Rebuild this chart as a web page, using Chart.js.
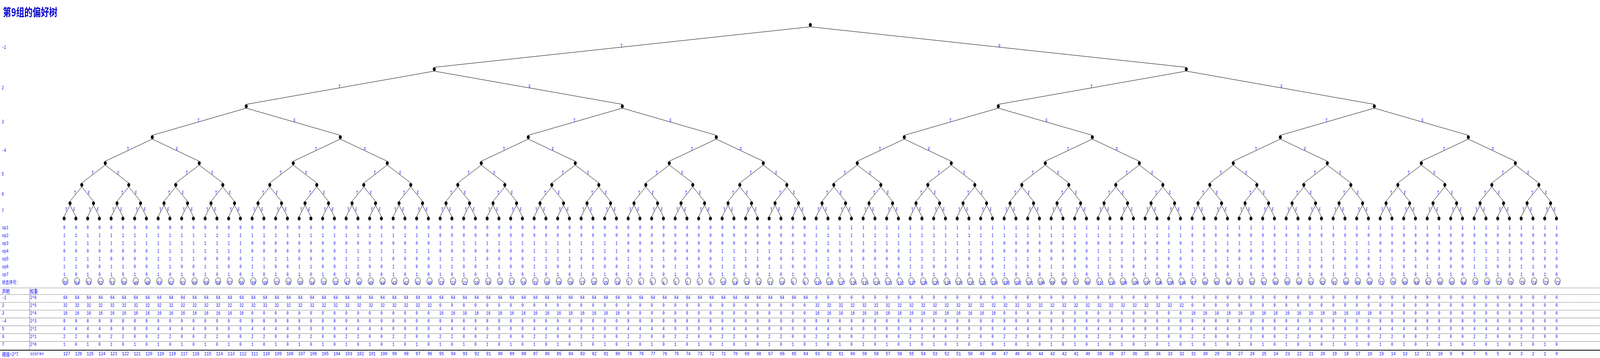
<!DOCTYPE html>
<html>
<head>
<meta charset="utf-8">
<script src="https://cdn.jsdelivr.net/npm/chart.js@4.4.0/dist/chart.umd.min.js"></script>
<style>html,body{margin:0;padding:0;background:#fff;overflow:hidden}#wrap{overflow:hidden}</style>
</head>
<body>
<div id="wrap"><canvas id="myChart"></canvas></div>
<script>
// ---- data ----
var title = "第9组的偏好树";
var declarations = ["-1", "2", "3", "-4", "5", "6", "7"];
var weightLabels = ["2^6", "2^5", "2^4", "2^3", "2^2", "2^1", "2^0"];
var weights = [64, 32, 16, 8, 4, 2, 1];
var opNames = ["op1", "op2", "op3", "op4", "op5", "op6", "op7"];
// one string per op row, 128 leaves, grouped by 16
var opRows = [
  "0000000000000000 0000000000000000 0000000000000000 0000000000000000 1111111111111111 1111111111111111 1111111111111111 1111111111111111",
  "1111111111111111 1111111111111111 0000000000000000 0000000000000000 1111111111111111 1111111111111111 0000000000000000 0000000000000000",
  "1111111111111111 0000000000000000 1111111111111111 0000000000000000 1111111111111111 0000000000000000 1111111111111111 0000000000000000",
  "0000000011111111 0000000011111111 0000000011111111 0000000011111111 0000000011111111 0000000011111111 0000000011111111 0000000011111111",
  "1111000011110000 1111000011110000 1111000011110000 1111000011110000 1111000011110000 1111000011110000 1111000011110000 1111000011110000",
  "1100110011001100 1100110011001100 1100110011001100 1100110011001100 1100110011001100 1100110011001100 1100110011001100 1100110011001100",
  "1010101010101010 1010101010101010 1010101010101010 1010101010101010 1010101010101010 1010101010101010 1010101010101010 1010101010101010"
];
var states = [
  55,54,53,52,51,50,49,48, 63,62,61,60,59,58,57,56,
  39,38,37,36,35,34,33,32, 47,46,45,44,43,42,41,40,
  23,22,21,20,19,18,17,16, 31,30,29,28,27,26,25,24,
  7,6,5,4,3,2,1,0, 15,14,13,12,11,10,9,8,
  119,118,117,116,115,114,113,112, 127,126,125,124,123,122,121,120,
  103,102,101,100,99,98,97,96, 111,110,109,108,107,106,105,104,
  87,86,85,84,83,82,81,80, 95,94,93,92,91,90,89,88,
  71,70,69,68,67,66,65,64, 79,78,77,76,75,74,73,72
];
var scores = [
  127,126,125,124,123,122,121,120,119,118,117,116,115,114,113,112,
  111,110,109,108,107,106,105,104,103,102,101,100,99,98,97,96,
  95,94,93,92,91,90,89,88,87,86,85,84,83,82,81,80,
  79,78,77,76,75,74,73,72,71,70,69,68,67,66,65,64,
  63,62,61,60,59,58,57,56,55,54,53,52,51,50,49,48,
  47,46,45,44,43,42,41,40,39,38,37,36,35,34,33,32,
  31,30,29,28,27,26,25,24,23,22,21,20,19,18,17,16,
  15,14,13,12,11,10,9,8,7,6,5,4,3,2,1,0
];
var thresholdLabel = "阈值=2^7";

// ---- layout (reference pixels, stretched to the window below) ----
var W = 5420, H = 917;
var LEAF0 = 205, STEP = 40;
var LEVELS = declarations.length;
var levelY = [55, 171, 268, 349, 417, 474, 522, 562];
var NODE_R = 5;
var BLUE = "#0000ff";
var MONO = "'Liberation Mono', monospace";
var CJK = "'Noto Sans CJK SC', sans-serif";

var cssW = window.innerWidth || W, cssH = window.innerHeight || H;
var KX = cssW / W, KY = cssH / H;
var wrap = document.getElementById("wrap");
wrap.style.width = cssW + "px";
wrap.style.height = cssH + "px";
var canvas = document.getElementById("myChart");
canvas.width = cssW;
canvas.height = cssH;

// ellipse sprite so dots keep the reference proportions after stretching
function sprite(r, fill, stroke){
  var dpr = window.devicePixelRatio || 1;
  var w = Math.ceil(2 * r * KX + 3), h = Math.ceil(2 * r * KY + 3);
  var cv = document.createElement("canvas");
  cv.width = w * dpr; cv.height = h * dpr;
  var g = cv.getContext("2d");
  g.scale(dpr, dpr);
  g.beginPath();
  g.ellipse(w / 2, h / 2, r * KX, r * KY, 0, 0, Math.PI * 2);
  if (fill){ g.fillStyle = fill; g.fill(); }
  if (stroke){ g.strokeStyle = stroke; g.lineWidth = 1; g.stroke(); }
  var img = new Image(w, h);
  img.src = cv.toDataURL();
  return img;
}

var ops = opRows.map(function(r){ return r.replace(/ /g, "").split("").map(Number); });
var leafCount = ops[0].length;

function nodeX(level, j){
  var span = Math.pow(2, LEVELS - level);
  return j * span + (span - 1) / 2;
}

var nodePts = [], edgeSets = [], edgeLabels = [];
for (var L = 0; L <= LEVELS; L++){
  var n = Math.pow(2, L);
  for (var j = 0; j < n; j++){
    nodePts.push({x: nodeX(L, j), y: levelY[L]});
    if (L < LEVELS){
      for (var c = 0; c < 2; c++){
        var a = {x: nodeX(L, j), y: levelY[L] + NODE_R};
        var b = {x: nodeX(L + 1, 2 * j + c), y: levelY[L + 1] - NODE_R};
        edgeSets.push({data: [a, b], showLine: true, borderColor: "#000", borderWidth: 1,
                       pointRadius: 0, order: 3});
        edgeLabels.push({x: (a.x + b.x) / 2, y: (a.y + b.y) / 2, t: c === 0 ? "T" : "F"});
      }
    }
  }
}

var circleY = 726;
var circlePts = states.map(function(s, i){ return {x: i + 0.1, y: circleY}; });

var opRowY = [584, 604, 624, 644, 664, 684, 704];
var stateRowY = 723;
var headerY = 746;
var weightRowY = [763, 783, 803, 823, 843, 863, 883];
var scoreY = 907;
var dottedY = [737, 754, 774, 794, 814, 834, 854, 874];
var solidY = 897;

var textPlugin = {
  id: "treeText",
  afterDatasetsDraw: function(chart){
    var c = chart.ctx, xs = chart.scales.x, ys = chart.scales.y;
    var kx = chart.width / W, ky = chart.height / H;
    function px(v){ return xs.getPixelForValue(v) / kx; }
    function py(v){ return ys.getPixelForValue(v) / ky; }
    function txt(s, x, y, font, align, base, color){
      c.font = font; c.textAlign = align; c.textBaseline = base;
      c.fillStyle = color || BLUE; c.fillText(s, x, y);
    }
    c.save();
    c.scale(kx, ky);
    // title
    txt(title, 10, 31, "bold 28px " + CJK, "left", "middle", "#0000d0");
    // level labels
    for (var d = 0; d < LEVELS; d++){
      txt(declarations[d], 6, py((levelY[d] + levelY[d + 1]) / 2) + 1, "12px " + MONO, "left", "middle");
    }
    // T / F on edges
    edgeLabels.forEach(function(e){
      var x = px(e.x), y = py(e.y);
      txt(e.t, x + 1, y + 1, "12px " + MONO, e.t === "T" ? "right" : "left", "alphabetic");
    });
    // op rows
    for (var r = 0; r < ops.length; r++){
      txt(opNames[r], 7, opRowY[r], "12px " + MONO, "left", "middle");
      for (var i = 0; i < leafCount; i++){
        txt(String(ops[r][i]), px(i) - 3, opRowY[r], "12px " + MONO, "left", "middle");
      }
    }
    // state numbers (left aligned, long ones run past the ring)
    txt("状态序号：", 7, stateRowY, "12px " + CJK, "left", "middle");
    states.forEach(function(s, i){
      txt(String(s), px(i) - 3, circleY, "12px " + MONO, "left", "middle");
    });
    // table lines
    c.strokeStyle = "#000"; c.lineWidth = 1;
    c.setLineDash([1, 1]);
    dottedY.forEach(function(y){
      c.beginPath(); c.moveTo(0, y + 0.5); c.lineTo(W, y + 0.5); c.stroke();
    });
    c.lineWidth = 1 / kx;
    c.beginPath(); c.moveTo(100.5, dottedY[0]); c.lineTo(100.5, solidY); c.stroke();
    c.setLineDash([]);
    c.lineWidth = 2;
    c.beginPath(); c.moveTo(0, solidY); c.lineTo(W, solidY); c.stroke();
    // header
    txt("声明", 7, headerY, "13px " + CJK, "left", "middle");
    txt("权重", 102, headerY, "13px " + CJK, "left", "middle");
    // weighted rows
    for (var d2 = 0; d2 < LEVELS; d2++){
      var neg = declarations[d2].charAt(0) === "-";
      txt(declarations[d2], 7, weightRowY[d2], "12px " + MONO, "left", "middle");
      txt(weightLabels[d2], 102, weightRowY[d2], "12px " + MONO, "left", "middle");
      for (var i2 = 0; i2 < leafCount; i2++){
        var sat = neg ? ops[d2][i2] === 0 : ops[d2][i2] === 1;
        txt(String(sat ? weights[d2] : 0), px(i2) - 3, weightRowY[d2], "12px " + MONO, "left", "middle");
      }
    }
    // score row
    txt(thresholdLabel, 7, scoreY, "13px " + CJK, "left", "middle");
    txt("score=", 102, scoreY, "13px " + MONO, "left", "middle");
    scores.forEach(function(s, i){
      txt(String(s), px(i) - 3, scoreY, "13px " + MONO, "left", "middle");
    });
    c.restore();
  }
};

var ctx = canvas.getContext("2d");
var nodeDot = sprite(NODE_R, "#000", null);
var stateRing = sprite(9, null, "#000");
function draw(){
  new Chart(ctx, {
    type: "scatter",
    data: {
      datasets: edgeSets.concat([
        {data: nodePts, pointStyle: nodeDot, pointRadius: NODE_R, order: 1},
        {data: circlePts, pointStyle: stateRing, pointRadius: 9, order: 2}
      ])
    },
    options: {
      responsive: false,
      animation: false,
      events: [],
      layout: {padding: 0},
      plugins: {legend: {display: false}, tooltip: {enabled: false}},
      scales: {
        x: {type: "linear", display: false, min: -LEAF0 / STEP, max: (W - LEAF0) / STEP},
        y: {type: "linear", display: false, min: 0, max: H, reverse: true}
      }
    },
    plugins: [textPlugin]
  });
}
var pending = 2;
[nodeDot, stateRing].forEach(function(im){
  if (im.complete) { if (--pending === 0) draw(); }
  else im.onload = function(){ if (--pending === 0) draw(); };
});
</script>
</body>
</html>
